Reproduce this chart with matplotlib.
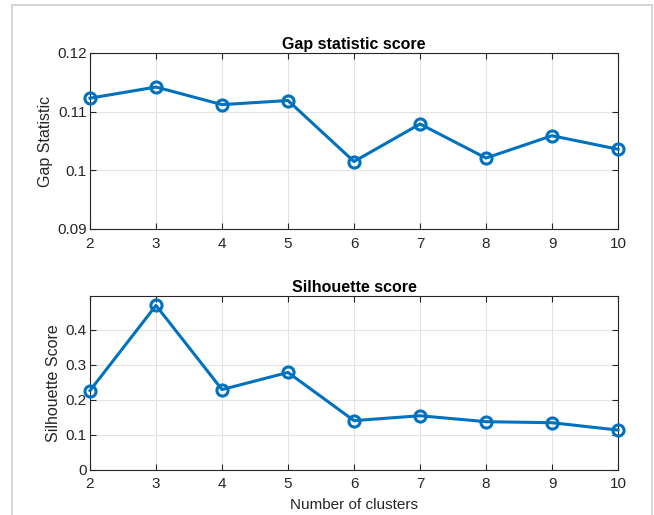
import matplotlib
matplotlib.use("Agg")
import matplotlib.pyplot as plt
from matplotlib.lines import Line2D

clusters = [2, 3, 4, 5, 6, 7, 8, 9, 10]
gap_values = [0.1123, 0.1142, 0.1112, 0.1119, 0.1015, 0.1079, 0.1021, 0.1059, 0.1036]
sil_values = [0.226, 0.470, 0.229, 0.278, 0.140, 0.154, 0.137, 0.134, 0.113]
gap_yticks = [0.09, 0.1, 0.11, 0.12]
gap_yticklabels = ["0.09", "0.1", "0.11", "0.12"]
sil_yticks = [0, 0.1, 0.2, 0.3, 0.4]
sil_yticklabels = ["0", "0.1", "0.2", "0.3", "0.4"]

plt.rcParams['font.family'] = ['Liberation Sans', 'DejaVu Sans']
W, H = 654, 515
fig = plt.figure(figsize=(W / 100, H / 100), dpi=100)
fig.patch.set_facecolor('white')

blue = '#0072BD'
dark = '#262626'

def px_ax(l, t, r, b):
    return fig.add_axes([l / W, 1 - b / H, (r - l) / W, (b - t) / H])

ax1 = px_ax(90, 53, 618, 229)
ax2 = px_ax(90, 296, 618, 469.5)

def style(ax):
    ax.set_xlim(2, 10)
    ax.set_xticks(clusters)
    ax.set_xticklabels([str(c) for c in clusters])
    ax.grid(True, color='#e3e3e3', linewidth=0.8)
    ax.set_axisbelow(True)
    ax.tick_params(direction='in', length=4, width=0.8, colors=dark,
                   labelsize=11, top=True, right=True, labelcolor=dark)
    ax.tick_params(axis='x', pad=5.5)
    ax.tick_params(axis='y', pad=2.5)
    for s in ax.spines.values():
        s.set_color(dark)
        s.set_linewidth(0.8)

ax1.plot(clusters, gap_values, color=blue, linewidth=2.2, marker='o',
         markersize=8, markerfacecolor='none', markeredgewidth=2.2, clip_on=False, zorder=3)
style(ax1)
ax1.set_ylim(0.09, 0.12)
ax1.set_yticks(gap_yticks)
ax1.set_yticklabels(gap_yticklabels)
ax1.set_ylabel('Gap Statistic', fontsize=11.5, color=dark, labelpad=3)
ax1.set_title('Gap statistic score', fontsize=11.5, fontweight='bold', color='black', pad=3)

ax2.plot(clusters, sil_values, color=blue, linewidth=2.2, marker='o',
         markersize=8, markerfacecolor='none', markeredgewidth=2.2, clip_on=False, zorder=3)
style(ax2)
ax2.set_ylim(0, 0.497)
ax2.set_yticks(sil_yticks)
ax2.set_yticklabels(sil_yticklabels)
ax2.set_ylabel('Silhouette Score', fontsize=11.5, color=dark, labelpad=3)
ax2.set_xlabel('Number of clusters', fontsize=11, color=dark, labelpad=5)
ax2.set_title('Silhouette score', fontsize=11.5, fontweight='bold', color='black', pad=3)

# window frame
fc = '#d2d2d2'
def fx(x): return x / W
def fy(y): return 1 - y / H
fig.add_artist(Line2D([fx(11.5), fx(652)], [fy(4.5), fy(4.5)], color=fc, linewidth=1.3))
fig.add_artist(Line2D([fx(11.5), fx(11.5)], [fy(4.5), fy(515)], color=fc, linewidth=1.3))
fig.add_artist(Line2D([fx(652), fx(652)], [fy(4.5), fy(515)], color=fc, linewidth=1.3))

fig.savefig('out.png', dpi=100, facecolor='white')
